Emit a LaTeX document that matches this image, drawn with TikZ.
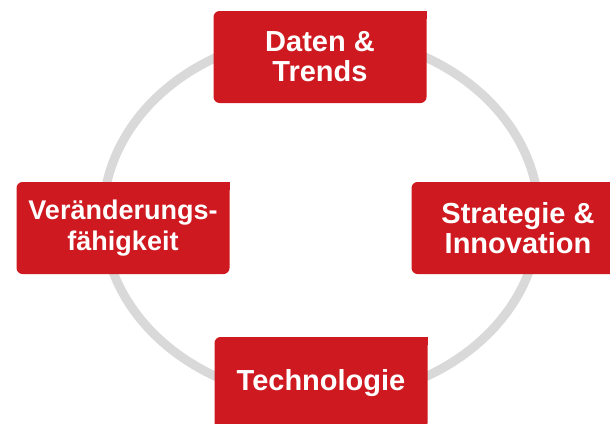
\documentclass[tikz,border=0pt]{standalone}
\usepackage{fontspec}
\setmainfont{Liberation Sans}
\usetikzlibrary{positioning}

\definecolor{boxred}{RGB}{205,25,31}
\definecolor{ringgrey}{RGB}{217,217,217}

\def\boxw{213}
\def\boxh{92}

\tikzset{
  feld/.style={fill=boxred, rounded corners=6pt, inner sep=0pt,
    minimum width=\boxw pt, minimum height=\boxh pt, align=center,
    text=white, font=\bfseries\fontsize{29}{30}\selectfont},
  ring/.style={draw=ringgrey, line width=9pt}
}

\begin{document}
\begin{tikzpicture}[x=1pt, y=-1pt]
  \clip (0,0) rectangle (610,423);             % page = 610 x 423
  \coordinate (mitte) at (321,217);
  \draw[ring] (mitte) ellipse [x radius=218, y radius=182];
  % the four fields on the ring
  \node[feld] (daten)        at (320,57)  {Daten \&\\Trends};
  \node[feld] (strategie)    at (518,228) {Strategie \&\\Innovation};
  \node[feld] (technologie)  at (321,383) {Technologie};
  \node[feld, font=\bfseries\fontsize{27}{31}\selectfont]
              (veraenderung) at (123,228) {Veränderungs-\\fähigkeit};
  % sharp upper right corner
  \foreach \n in {daten,strategie,technologie,veraenderung}
    \fill[boxred] (\n.north east) rectangle ++(-8,8);
\end{tikzpicture}
\end{document}
